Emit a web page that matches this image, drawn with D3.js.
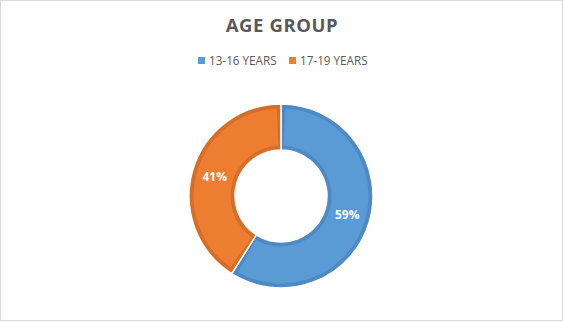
<!DOCTYPE html>
<html>
<head>
<meta charset="utf-8">
<script src="https://cdn.jsdelivr.net/npm/d3@7"></script>
<style>
  body { margin: 0; background: #fff; }
  svg { display: block; }
</style>
</head>
<body>
<div id="chart"></div>
<script>
// data
const categories = ["13-16 YEARS", "17-19 YEARS"];
const shares = [59, 41];
const fills = ["#5B9BD5", "#ED7D31"];
const borders = ["#4D89C2", "#D66E28"];

const width = 565;
const height = 322;

const svg = d3.select("#chart").append("svg")
              .attr("width", width)
              .attr("height", height);

// frame
svg.append("rect")
    .attr("x", 0.5).attr("y", 0.5)
    .attr("width", width - 3).attr("height", height - 2)
    .attr("fill", "#fff")
    .attr("stroke", "#D9D9D9");

// title
svg.append("text")
    .attr("x", 282)
    .attr("y", 32)
    .attr("text-anchor", "middle")
    .attr("font-family", "Open Sans, sans-serif")
    .attr("font-weight", "bold")
    .attr("font-size", 18.5)
    .attr("letter-spacing", 0.6)
    .attr("fill", "#595959")
    .text("AGE GROUP");

// legend
const legendX = [198, 289];
const legend = svg.selectAll(".legend")
                  .data(categories)
                  .enter().append("g")
                  .attr("class", "legend")
                  .attr("transform", (d, i) => `translate(${legendX[i]}, 57)`);

legend.append("rect")
      .attr("width", 7).attr("height", 7)
      .attr("fill", (d, i) => fills[i]);

legend.append("text")
      .attr("x", 11)
      .attr("y", 7.5)
      .attr("font-family", "Open Sans, sans-serif")
      .attr("font-size", 11.7)
      .attr("fill", "#595959")
      .text(d => d);

// donut
const cx = 281, cy = 196;
const outerR = 92, innerR = 46;

const pie = d3.pie().sort(null).value(d => d);
const arcs = pie(shares);

const g = svg.append("g").attr("transform", `translate(${cx}, ${cy})`);

const arc = d3.arc().innerRadius(innerR).outerRadius(outerR);

// darker outline band
g.selectAll(".slice")
  .data(arcs)
  .enter().append("path")
  .attr("class", "slice")
  .attr("d", arc)
  .attr("fill", (d, i) => borders[i])
  .attr("stroke", "#fff")
  .attr("stroke-width", 1.5);

// lighter fill inside the band
g.selectAll(".inner")
  .data(arcs)
  .enter().append("path")
  .attr("class", "inner")
  .attr("d", d => d3.arc().innerRadius(innerR + 4.5).outerRadius(outerR - 4.5)
                          .startAngle(d.startAngle + 0.05).endAngle(d.endAngle - 0.05)())
  .attr("fill", (d, i) => fills[i]);

g.selectAll(".label")
  .data(arcs)
  .enter().append("text")
  .attr("class", "label")
  .attr("transform", d => `translate(${arc.centroid(d)})`)
  .attr("text-anchor", "middle")
  .attr("dy", "0.35em")
  .attr("font-family", "Open Sans, sans-serif")
  .attr("font-weight", "bold")
  .attr("font-size", 12)
  .attr("fill", "#fff")
  .text(d => `${d.data}%`);
</script>
</body>
</html>
